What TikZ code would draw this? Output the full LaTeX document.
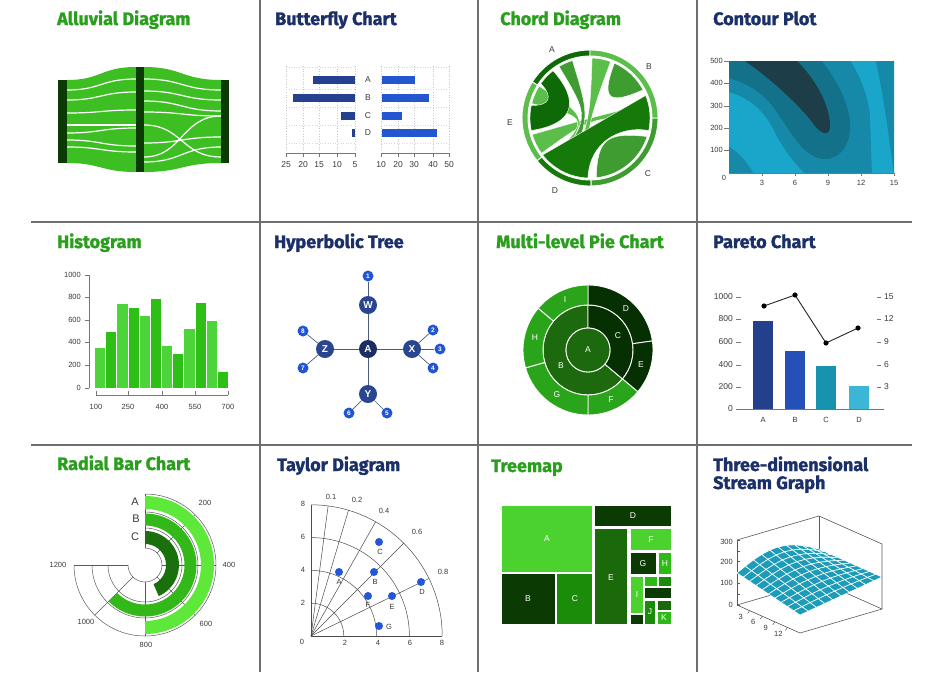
\documentclass[tikz,border=0pt]{standalone}
\usepackage{fontspec}
\setmainfont{Liberation Sans}
\newfontfamily\titlefont{Fira Sans}[BoldFeatures={FakeBold=1.4}]
\definecolor{gtitle}{HTML}{2A9F1D}
\definecolor{ntitle}{HTML}{1B2F68}
\definecolor{sepgray}{HTML}{6E6E6E}
\definecolor{txt}{HTML}{3A3A3A}
\definecolor{axgray}{HTML}{777777}
\definecolor{algreen}{HTML}{3DBE22}
\definecolor{aldark}{HTML}{0B3A03}
\definecolor{bfnavy}{HTML}{24408E}
\definecolor{bfblue}{HTML}{2456D0}
\definecolor{chA}{HTML}{0E6A06}
\definecolor{chLight}{HTML}{5CBE4A}
\definecolor{chD}{HTML}{167A0A}
\definecolor{chMid}{HTML}{3E9C31}
\definecolor{coLight}{HTML}{1AA5CB}
\definecolor{coMid}{HTML}{1689A8}
\definecolor{coDark}{HTML}{13718A}
\definecolor{coCore}{HTML}{1D3D48}
\definecolor{hiLight}{HTML}{4CD43A}
\definecolor{hiDark}{HTML}{2DBF15}
\definecolor{htHub}{HTML}{2A4690}
\definecolor{htRoot}{HTML}{1B2D62}
\definecolor{htLeaf}{HTML}{2355D3}
\definecolor{htEdge}{HTML}{4B5B7E}
\definecolor{pieDark}{HTML}{063002}
\definecolor{pieMid}{HTML}{1C6A0D}
\definecolor{pieLight}{HTML}{2AA41B}
\definecolor{paA}{HTML}{23408C}
\definecolor{paB}{HTML}{2450B8}
\definecolor{paC}{HTML}{1793AF}
\definecolor{paD}{HTML}{3CB6D4}
\definecolor{rbA}{HTML}{5DE83A}
\definecolor{rbB}{HTML}{33B81A}
\definecolor{rbC}{HTML}{1A700C}
\definecolor{tdBlue}{HTML}{2456DB}
\definecolor{tmA}{HTML}{4CD22F}
\definecolor{tmDark}{HTML}{0B3A03}
\definecolor{tmC}{HTML}{1B8C0A}
\definecolor{tmE}{HTML}{1A6A0C}
\definecolor{tmH}{HTML}{2DBA17}
\definecolor{surf}{HTML}{1C9CB8}
\newcommand\annsec[5]{\fill[#1, draw=white, line width=0.9pt] (#2:#4) arc (#2:#3:#4) -- (#3:#5) arc (#3:#2:#5) -- cycle;}
\tikzset{
 ttl/.style={anchor=base west, inner sep=0pt, font=\titlefont\bfseries\fontsize{18}{18}\selectfont},
 lbl/.style={inner sep=0pt, text=txt, font=\fontsize{7.5}{7.5}\selectfont},
 mlbl/.style={inner sep=0pt, text=txt, font=\fontsize{8.5}{8.5}\selectfont},
 sep/.style={draw=sepgray, line width=1.5pt},
 axisline/.style={draw=axgray, line width=0.7pt},
 flowline/.style={draw=white, line width=1.2pt},
 wlbl/.style={inner sep=0pt, text=white, font=\fontsize{8.5}{8.5}\selectfont},
 hub/.style={circle, fill=htHub, minimum size=18pt, inner sep=0pt, text=white, font=\bfseries\fontsize{10}{10}\selectfont},
 leaf/.style={circle, fill=htLeaf, minimum size=11pt, inner sep=0pt, text=white, font=\bfseries\fontsize{6.5}{6.5}\selectfont},
 tdot/.style={circle, fill=tdBlue, minimum size=8pt, inner sep=0pt},
 tgl/.style={draw=black!70, line width=0.5pt},
}
\begin{document}
\begin{tikzpicture}[x=1pt,y=-1pt,
  declare function={hh(\ua,\va)=32+14*sin(180*\ua)*(1-\va)-14*\va*(1-\ua);
    sx(\ua,\va)=737+82*\ua+63*\va;
    sy(\ua,\va)=605-24*\ua+28*\va-hh(\ua,\va);}]
\useasboundingbox (0,0) rectangle (931,672);
\fill[white] (0,0) rectangle (931,672);
% ---------- separators
\draw[sep] (31,222) -- (912,222);
\draw[sep] (31,445) -- (912,445);
\draw[sep] (260,0) -- (260,672);
\draw[sep] (478,0) -- (478,672);
\draw[sep] (697,0) -- (697,672);
% ---------- titles
\node[ttl, text=gtitle] (t1) at (57,25) {Alluvial Diagram};
\node[ttl, text=ntitle] (t2) at (275,25) {Butterfly Chart};
\node[ttl, text=gtitle] (t3) at (500,25) {Chord Diagram};
\node[ttl, text=ntitle] (t4) at (713,25) {Contour Plot};
\node[ttl, text=gtitle] (t5) at (57,248) {Histogram};
\node[ttl, text=ntitle] (t6) at (274,248) {Hyperbolic Tree};
\node[ttl, text=gtitle] (t7) at (496,248) {Multi-level Pie Chart};
\node[ttl, text=ntitle] (t8) at (713,248) {Pareto Chart};
\node[ttl, text=gtitle] (t9) at (57,470) {Radial Bar Chart};
\node[ttl, text=ntitle] (t10) at (277,471) {Taylor Diagram};
\node[ttl, text=gtitle] (t11) at (491,472) {Treemap};
\node[ttl, text=ntitle] (t12) at (713,471) {Three-dimensional};
\node[ttl, text=ntitle] (t12b) at (713,489) {Stream Graph};
% ---------- Alluvial
\fill[algreen] (67,80) .. controls (101,80) and (101,67) .. (136,67) -- (136,172) .. controls (101,172) and (101,163) .. (67,163) -- cycle;
\fill[algreen] (144,67) .. controls (182,67) and (182,80) .. (221,80) -- (221,163) .. controls (182,163) and (182,172) .. (144,172) -- cycle;
\foreach \a/\b in {90/79,100/92,113/110,125/125,133/128,140/146,147/152}
  \draw[flowline] (67,\a) .. controls (101,\a) and (101,\b) .. (136,\b);
\foreach \a/\b in {79/90,91/100,101/111,112/116,125/157,157/116,143/137,162/147}
  \draw[flowline] (144,\a) .. controls (182,\a) and (182,\b) .. (221,\b);
\fill[aldark] (58,80) rectangle (67,163);
\fill[aldark] (136,67) rectangle (144,172);
\fill[aldark] (221,80) rectangle (229,163);
% ---------- Butterfly
\foreach \xx in {286,303,319,337,355,381,398,414,433,449}
  \draw[gray!45, dotted, line width=0.6pt] (\xx,66) -- (\xx,150);
\foreach \yy in {67,89,107,125,143}
  {\draw[gray!30, dotted, line width=0.6pt] (286,\yy) -- (355,\yy);
   \draw[gray!30, dotted, line width=0.6pt] (381,\yy) -- (449,\yy);}
\fill[bfnavy] (313,76) rectangle (355,84);
\fill[bfnavy] (293,94) rectangle (355,102);
\fill[bfnavy] (341,112) rectangle (355,120);
\fill[bfnavy] (352,129) rectangle (355,137);
\fill[bfblue] (382,76) rectangle (415,84);
\fill[bfblue] (382,94) rectangle (429,102);
\fill[bfblue] (382,112) rectangle (402,120);
\fill[bfblue] (382,129) rectangle (437,137);
\node[mlbl] (bA) at (368,80) {A};
\node[mlbl] (bB) at (368,98) {B};
\node[mlbl] (bC) at (368,116) {C};
\node[mlbl] (bD) at (368,133) {D};
\draw[axisline] (286,153) -- (355,153);
\draw[axisline] (381,153) -- (449,153);
\foreach \xx/\t in {286/25,303/20,319/15,337/10,355/5}
  {\draw[axisline] (\xx,153) -- (\xx,157); \node[mlbl] at (\xx,165) {\t};}
\foreach \xx/\t in {381/10,398/20,414/30,433/40,449/50}
  {\draw[axisline] (\xx,153) -- (\xx,157); \node[mlbl] at (\xx,165) {\t};}
% ---------- Chord
\begin{scope}[shift={(590,118)}, y=1pt]
\annsec{chA}{90}{148}{62}{68}
\annsec{chLight}{148}{219}{62}{68}
\annsec{chD}{219}{271}{62}{68}
\annsec{chMid}{271}{360}{62}{68}
\annsec{chLight}{0}{90}{62}{68}
\fill[chLight, draw=white, line width=0.4pt] (196:60) arc (196:216:60) .. controls (0,0) .. (2:60) arc (2:14:60) .. controls (0,0) .. cycle;
\fill[chLight, draw=white, line width=0.4pt] (148:60) arc (148:166:60) .. controls (0,0) .. (226:60) arc (226:232:60) .. controls (0,0) .. cycle;
\fill[chMid, draw=white, line width=0.4pt] (276:60) arc (276:342:60) .. controls (320:22) and (290:22) .. cycle;
\fill[chMid, draw=white, line width=0.4pt] (28:60) arc (28:66:60) .. controls (60:22) and (35:22) .. cycle;
\fill[chLight, draw=white, line width=0.4pt] (70:60) arc (70:88:60) .. controls (0,0) .. (250:60) arc (250:262:60) .. controls (0,0) .. cycle;
\fill[chMid, draw=white, line width=0.4pt] (107:60) arc (107:121:60) .. controls (0,0) .. (232:60) arc (232:246:60) .. controls (0,0) .. cycle;
\fill[chA, draw=white, line width=0.4pt] (128:60) arc (128:145:60) .. controls (150:42) and (163:42) .. (168:60) arc (168:192:60) .. controls (200:18) and (120:18) .. cycle;
\fill[chD, draw=white, line width=0.4pt] (218:60) arc (218:268:60) .. controls (268:25) and (-14:30) .. (-12:60) arc (-12:22:60) -- cycle;
\end{scope}
\node[mlbl] (cA) at (552,50) {A};
\node[mlbl] (cB) at (649,67) {B};
\node[mlbl] (cC) at (648,174) {C};
\node[mlbl] (cD) at (555,191) {D};
\node[mlbl] (cE) at (510,123) {E};
% ---------- Contour
\begin{scope}
\clip (729,61) rectangle (894,173);
\fill[coLight] (729,61) rectangle (894,173);
\fill[coMid] (728,59) -- (849,59) .. controls (860,75) and (870,100) .. (870,120) -- (872,175) -- (807,175) .. controls (795,165) and (785,150) .. (777,137) .. controls (770,120) and (755,98) .. (728,92) -- cycle;
\fill[coMid] (875,59) .. controls (882,85) and (888,130) .. (894,175) -- (896,175) -- (896,59) -- cycle;
\fill[coMid] (728,146) .. controls (738,152) and (748,162) .. (754,175) -- (728,175) -- cycle;
\fill[coDark] (728,59) -- (820,59) .. controls (838,80) and (852,110) .. (850,130) .. controls (848,155) and (830,162) .. (818,158) .. controls (800,152) and (790,130) .. (780,117) .. controls (770,100) and (755,85) .. (728,78) -- cycle;
\fill[coCore] (742,59) .. controls (762,72) and (795,100) .. (812,122) .. controls (820,134) and (830,138) .. (830,126) .. controls (830,105) and (815,78) .. (795,59) -- cycle;
\end{scope}
\draw[axisline] (729,173) -- (894,173);
\foreach \yy/\t in {61/500,83/400,106/300,128/200,150/100}
  {\draw[axisline] (724,\yy) -- (729,\yy); \node[lbl, anchor=east] at (723,\yy) {\t};}
\node[lbl] (c0) at (724,178) {0};
\foreach \xx/\t in {762/3,795/6,828/9,861/12,894/15}
  {\draw[axisline] (\xx,173) -- (\xx,176); \node[lbl] at (\xx,183) {\t};}
% ---------- Histogram
\foreach \v [count=\i from 0] in {350,500,740,710,640,790,375,305,525,750,590,145} {
  \pgfmathsetmacro\xl{95+\i*11.17}
  \pgfmathsetmacro\xr{\xl+10.2}
  \pgfmathsetmacro\yt{388-\v*0.113}
  \pgfmathtruncatemacro\parity{mod(\i,2)}
  \ifnum\parity=0 \def\bc{hiLight}\else\def\bc{hiDark}\fi
  \fill[\bc] (\xl,\yt) rectangle (\xr,388);
}
\draw[axisline] (89,275) -- (89,388);
\foreach \yy/\t in {275/1000,297/800,320/600,342/400,365/200,388/0}
  {\draw[axisline] (85,\yy) -- (89,\yy); \node[lbl, anchor=east] at (81,\yy) {\t};}
\draw[axisline] (96,395) -- (228,395);
\foreach \xx/\t in {96/100,128/250,162/400,195/550,228/700}
  {\draw[axisline] (\xx,391) -- (\xx,395); \node[lbl] at (\xx,407) {\t};}
% ---------- Hyperbolic tree
\node[hub, fill=htRoot] (hA) at (368,349) {A};
\node[hub] (hW) at (368,305) {W};
\node[hub] (hZ) at (325,349) {Z};
\node[hub] (hX) at (412,349) {X};
\node[hub] (hY) at (368,394) {Y};
\node[leaf] (h1) at (368,276) {1};
\node[leaf] (h2) at (433,330) {2};
\node[leaf] (h3) at (440,349) {3};
\node[leaf] (h4) at (433,368) {4};
\node[leaf] (h5) at (387,413) {5};
\node[leaf] (h6) at (349,413) {6};
\node[leaf] (h7) at (303,368) {7};
\node[leaf] (h8) at (303,331) {8};
\foreach \p/\q in {hA/hW,hA/hZ,hA/hX,hA/hY,hW/h1,hX/h2,hX/h3,hX/h4,hY/h5,hY/h6,hZ/h7,hZ/h8}
  \draw[htEdge, line width=0.7pt] (\p) -- (\q);
% ---------- Multi-level pie
\begin{scope}[shift={(588,350)}, y=1pt]
\annsec{pieMid}{90}{320}{22}{45}
\annsec{pieDark}{-40}{90}{22}{45}
\annsec{pieDark}{8}{90}{45}{65}
\annsec{pieDark}{-40}{8}{45}{65}
\annsec{pieLight}{-90}{-40}{45}{65}
\annsec{pieLight}{196}{270}{45}{65}
\annsec{pieLight}{140}{196}{45}{65}
\annsec{pieLight}{90}{140}{45}{65}
\fill[pieMid, draw=white, line width=0.9pt] (0,0) circle (22);
\end{scope}
\node[wlbl] (pA) at (588,350) {A};
\node[wlbl] (pB) at (561,366) {B};
\node[wlbl] (pC) at (618,336) {C};
\node[wlbl] (pD) at (626,309) {D};
\node[wlbl] (pE) at (641,365) {E};
\node[wlbl] (pF) at (611,400) {F};
\node[wlbl] (pG) at (557,395) {G};
\node[wlbl] (pH) at (535,338) {H};
\node[wlbl] (pI) at (565,300) {I};
% ---------- Pareto
\fill[paA] (753,321) rectangle (773,409);
\fill[paB] (785,351) rectangle (805,409);
\fill[paC] (816,366) rectangle (836,409);
\fill[paD] (849,386) rectangle (869,409);
\draw[axisline] (736,409) -- (884,409);
\foreach \yy/\t in {297/1000,319/800,342/600,365/400,387/200,409/0}
  {\draw[axisline] (736,\yy) -- (741,\yy); \node[mlbl, anchor=east] at (733,\yy) {\t};}
\foreach \yy/\t in {297/15,319/12,342/9,365/6,387/3}
  {\draw[axisline] (877,\yy) -- (881,\yy); \node[mlbl, anchor=west] at (884,\yy) {\t};}
\node[lbl] (paLA) at (763,420) {A};
\node[lbl] (paLB) at (795,420) {B};
\node[lbl] (paLC) at (826,420) {C};
\node[lbl] (paLD) at (859,420) {D};
\coordinate (q1) at (764,306);
\coordinate (q2) at (795,295);
\coordinate (q3) at (826,343);
\coordinate (q4) at (858,328);
\draw[black!85, line width=0.9pt] (q1) -- (q2) -- (q3) -- (q4);
\foreach \q in {q1,q2,q3,q4} \fill[black] (\q) circle (2.6);
% ---------- Radial bar
\begin{scope}[shift={(145,565)}, y=1pt]
\foreach \r in {17,37,53,71}
  \draw[black!65, line width=0.5pt] (90:\r) arc (90:-180:\r);
\foreach \a in {90,45,0,-45,-90,-135,180}
  \draw[black!65, line width=0.5pt] (\a:17) -- (\a:71);
\fill[rbA] (90:69) arc (90:-90:69) -- (-90:56) arc (-90:90:56) -- cycle;
\fill[rbB] (90:51.5) arc (90:-135:51.5) -- (-135:39.5) arc (-135:90:39.5) -- cycle;
\fill[rbC] (90:34) arc (90:-66:34) -- (-66:21) arc (-66:90:21) -- cycle;
\end{scope}
\node[lbl] (r200) at (205,503) {200};
\node[lbl] (r400) at (229,565) {400};
\node[lbl] (r600) at (206,624) {600};
\node[lbl] (r800) at (146,645) {800};
\node[lbl] (r1000) at (86,622) {1000};
\node[lbl] (r1200) at (58,565) {1200};
\node[inner sep=0pt, text=txt, font=\fontsize{11}{11}\selectfont] (rA) at (135,502) {A};
\node[inner sep=0pt, text=txt, font=\fontsize{11}{11}\selectfont] (rB) at (136,519) {B};
\node[inner sep=0pt, text=txt, font=\fontsize{11}{11}\selectfont] (rC) at (135,537) {C};
% ---------- Taylor
\begin{scope}[shift={(311,636)}, x=16.4pt, y=16.4pt]
\draw[tgl] (0,0) -- (8,0);
\draw[tgl] (0,0) -- (0,8);
\foreach \r in {2,4,6,8} \draw[tgl] (\r,0) arc (0:90:\r);
\foreach \a in {82.5,73.4,60.5,45,26} \draw[tgl] (0,0) -- (\a:8);
\end{scope}
\foreach \yy/\t in {504/8,537/6,570/4,603/2}
  \node[lbl] at (303,\yy) {\t};
\node[lbl] (ty0) at (302,642) {0};
\foreach \xx/\t in {345/2,378/4,410/6,442/8}
  \node[lbl] at (\xx,643) {\t};
\node[lbl] (k1) at (331,497) {0.1};
\node[lbl] (k2) at (357,500) {0.2};
\node[lbl] (k4) at (384,511) {0.4};
\node[lbl] (k6) at (417,532) {0.6};
\node[lbl] (k8) at (443,572) {0.8};
\node[tdot] (dA) at (339,572) {};
\node[tdot] (dB) at (374,572) {};
\node[tdot] (dC) at (379,542) {};
\node[tdot] (dD) at (421,582) {};
\node[tdot] (dE) at (392,596) {};
\node[tdot] (dF) at (368,596) {};
\node[tdot] (dG) at (379,626) {};
\node[lbl] (lA) at (339,582) {A};
\node[lbl] (lB) at (375,582) {B};
\node[lbl] (lC) at (380,552) {C};
\node[lbl] (lD) at (422,592) {D};
\node[lbl] (lE) at (392,607) {E};
\node[lbl] (lF) at (368,605) {F};
\node[lbl] (lG) at (389,627) {G};
% ---------- Treemap
\fill[tmA] (502,506) rectangle (592,572);
\fill[tmDark] (502,574) rectangle (555,624);
\fill[tmC] (557,574) rectangle (592,624);
\fill[tmDark] (595,506) rectangle (671,526);
\fill[tmE] (595,529) rectangle (627,624);
\fill[tmA] (631,529) rectangle (671,550);
\fill[tmDark] (631,553) rectangle (656,574);
\fill[tmH] (659,553) rectangle (671,574);
\fill[tmA] (631,577) rectangle (643,613);
\fill[tmDark] (631,615) rectangle (643,624);
\fill[tmH] (645,577) rectangle (657,586);
\fill[tmC] (659,577) rectangle (671,586);
\fill[tmDark] (645,588) rectangle (671,598);
\fill[tmC] (645,601) rectangle (655,624);
\fill[tmE] (658,601) rectangle (671,610);
\fill[tmH] (658,612) rectangle (671,624);
\node[wlbl] (mA) at (547,539) {A};
\node[wlbl] (mB) at (528,599) {B};
\node[wlbl] (mC) at (575,599) {C};
\node[wlbl] (mD) at (633,516) {D};
\node[wlbl] (mE) at (611,578) {E};
\node[wlbl] (mF) at (651,540) {F};
\node[wlbl] (mG) at (643,564) {G};
\node[wlbl] (mH) at (665,564) {H};
\node[wlbl] (mI) at (637,595) {I};
\node[wlbl] (mJ) at (650,612) {J};
\node[wlbl] (mK) at (664,618) {K};
% ---------- 3D stream graph
\coordinate (sL) at (737,605);
\coordinate (sB) at (819,581);
\coordinate (sF) at (800,633);
\coordinate (sR) at (882,609);
\coordinate (sLt) at (737,540);
\coordinate (sBt) at (819,516);
\coordinate (sRt) at (882,544);
\draw[black!65, line width=0.6pt] (sL) -- (sB) -- (sR);
\draw[black!65, line width=0.6pt] (sB) -- (sBt);
\draw[black!65, line width=0.6pt] (sLt) -- (sBt) -- (sRt);
\draw[black!65, line width=0.6pt] (sL) -- (sLt);
\foreach \k in {0,...,6}
  \draw[black!65, line width=0.5pt] (737,605-\k*10.83) -- (740,605-\k*10.83);
\foreach \i in {9,...,0} {
  \foreach \j in {0,...,9} {
    \pgfmathsetmacro\uA{\i/10}
    \pgfmathsetmacro\uB{(\i+1)/10}
    \pgfmathsetmacro\vA{\j/10}
    \pgfmathsetmacro\vB{(\j+1)/10}
    \fill[surf, draw=white, line width=0.6pt] ({sx(\uA,\vA)},{sy(\uA,\vA)}) -- ({sx(\uB,\vA)},{sy(\uB,\vA)}) -- ({sx(\uB,\vB)},{sy(\uB,\vB)}) -- ({sx(\uA,\vB)},{sy(\uA,\vB)}) -- cycle;
  }
}
\draw[black!65, line width=0.6pt] (sL) -- (sF) -- (sR) -- (sRt);
\foreach \t/\lab in {0.2/3,0.4/6,0.6/9,0.8/12} {
  \draw[black!65, line width=0.5pt] (737+63*\t,605+28*\t) -- (735+63*\t,608+28*\t);
  \node[lbl] at (728+63*\t,611+28*\t) {\lab};
}
\foreach \yy/\t in {542/300,562/200,583/100,605/0}
  \node[lbl, anchor=east] at (733,\yy) {\t};
\end{tikzpicture}
\end{document}
